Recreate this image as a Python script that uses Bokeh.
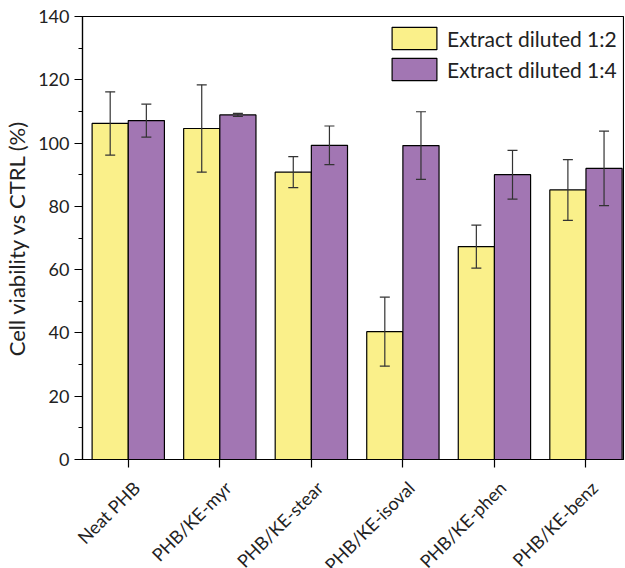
import numpy as np
from bokeh.plotting import figure
from bokeh.models import (ColumnDataSource, Range1d, FixedTicker, Legend, LegendItem,
                          Whisker, TeeHead)
from bokeh.embed import file_html
from bokeh.resources import INLINE

categories = ["Neat PHB", "PHB/KE-myr", "PHB/KE-stear", "PHB/KE-isoval", "PHB/KE-phen", "PHB/KE-benz"]
dil_12 = [106.2, 104.6, 90.8, 40.4, 67.3, 85.2]
dil_12_err = [10.0, 13.8, 4.9, 10.9, 6.8, 9.6]
dil_14 = [107.1, 108.9, 99.3, 99.2, 90.0, 92.0]
dil_14_err = [5.2, 0.5, 6.1, 10.7, 7.7, 11.8]
y_ticks = [0, 20, 40, 60, 80, 100, 120, 140]

YELLOW = "#FAF08A"
PURPLE = "#A276B3"
FONT = "Lato"
BAR_W = 0.395
LABEL_SHIFT = 0.09  # rotated labels sit slightly right of their tick

idx = np.arange(1, len(categories) + 1)

src1 = ColumnDataSource(dict(x=idx - BAR_W / 2, top=dil_12,
                             upper=np.array(dil_12) + np.array(dil_12_err),
                             lower=np.array(dil_12) - np.array(dil_12_err)))
src2 = ColumnDataSource(dict(x=idx + BAR_W / 2, top=dil_14,
                             upper=np.array(dil_14) + np.array(dil_14_err),
                             lower=np.array(dil_14) - np.array(dil_14_err)))

p = figure(frame_width=541, frame_height=443, output_backend="svg", toolbar_location=None,
           x_range=Range1d(0.5, 6.41), y_range=Range1d(0, 140),
           min_border_left=75, min_border_top=16, min_border_right=1, min_border_bottom=93)

r1 = p.vbar(x="x", top="top", width=BAR_W, bottom=0, source=src1,
            fill_color=YELLOW, line_color="black", line_width=1.2)
r2 = p.vbar(x="x", top="top", width=BAR_W, bottom=0, source=src2,
            fill_color=PURPLE, line_color="black", line_width=1.2)

for s in (src1, src2):
    w = Whisker(base="x", upper="upper", lower="lower", source=s, level="overlay",
                line_color="#333333", line_width=1.2,
                upper_head=TeeHead(size=10, line_color="#333333", line_width=1.2),
                lower_head=TeeHead(size=10, line_color="#333333", line_width=1.2))
    p.add_layout(w)

p.grid.visible = False
p.outline_line_color = "black"
p.outline_line_width = 1.2
p.background_fill_color = "white"
p.border_fill_color = "white"

# y axis
yax = p.yaxis[0]
yax.ticker = FixedTicker(ticks=y_ticks, minor_ticks=[v + 10 for v in y_ticks[:-1]])
yax.major_tick_out = 8
yax.major_tick_in = 0
yax.minor_tick_out = 4
yax.minor_tick_in = 0
yax.axis_line_width = 1.2
yax.major_tick_line_width = 1.2
yax.minor_tick_line_width = 1.2
yax.major_label_text_font = FONT
yax.major_label_text_font_size = "18px"
yax.major_label_text_color = "#222222"
yax.axis_label = "Cell viability vs CTRL (%)"
yax.axis_label_text_font = FONT
yax.axis_label_text_font_size = "22px"
yax.axis_label_text_font_style = "normal"
yax.axis_label_text_color = "#222222"
yax.axis_label_standoff = 5

# x axis: tick marks at categories (drawn as minor ticks), labels just right of them
xax = p.xaxis[0]
label_pos = [float(i + LABEL_SHIFT) for i in idx]
xax.ticker = FixedTicker(ticks=label_pos, minor_ticks=[float(i) for i in idx])
xax.major_label_overrides = {v: c for v, c in zip(label_pos, categories)}
xax.major_label_orientation = np.pi / 4
xax.major_label_standoff = 17
xax.major_tick_out = 0
xax.major_tick_in = 0
xax.minor_tick_out = 8
xax.minor_tick_in = 0
xax.axis_line_width = 1.2
xax.minor_tick_line_width = 1.2
xax.major_label_text_font = FONT
xax.major_label_text_font_size = "18px"
xax.major_label_text_color = "#222222"

legend = Legend(items=[LegendItem(label="Extract diluted 1:2", renderers=[r1]),
                       LegendItem(label="Extract diluted 1:4", renderers=[r2])],
                location=(304, 376))
legend.glyph_width = 56
legend.glyph_height = 28
legend.spacing = 3
legend.padding = 0
legend.margin = 0
legend.label_standoff = 5
legend.border_line_alpha = 0
legend.background_fill_alpha = 0
legend.label_text_font = FONT
legend.label_text_font_size = "21px"
legend.label_text_color = "#222222"
p.add_layout(legend)

open("out.html", "w").write(file_html(p, INLINE))
